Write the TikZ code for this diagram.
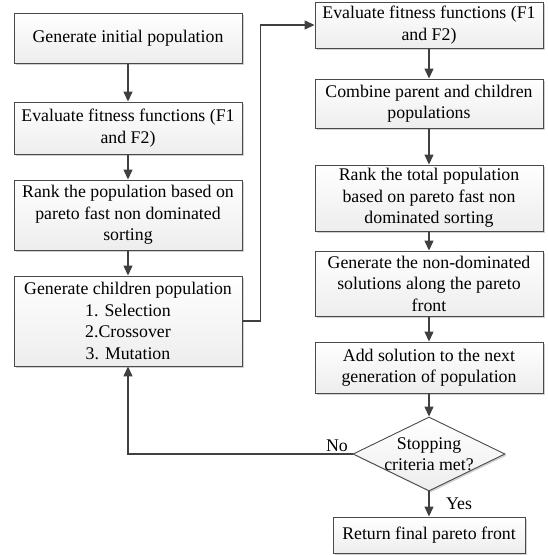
\documentclass[tikz,border=0pt]{standalone}
\usepackage{fontspec}
\setmainfont{Liberation Serif}
\usetikzlibrary{arrows.meta,shapes.geometric,shadows,calc}
\definecolor{edgec}{HTML}{4A4A4A}
\definecolor{linec}{HTML}{404040}
\tikzset{
  box/.style={draw=edgec, line width=0.9pt, top color=white, bottom color=black!7,
    align=center, inner sep=0pt, minimum width=228pt,
    font=\fontsize{17.8}{21.5}\selectfont,
    drop shadow={shadow xshift=1.6pt, shadow yshift=-1.6pt, fill=black!18, opacity=1}},
  decision/.style={draw=edgec, line width=0.9pt, shape=diamond, top color=white, bottom color=black!7,
    inner sep=0pt, minimum width=152pt, minimum height=74pt,
    drop shadow={shadow xshift=1.6pt, shadow yshift=-1.6pt, fill=black!18, opacity=1}},
  txt/.style={align=center, inner sep=0pt, font=\fontsize{17.8}{21.5}\selectfont},
  arr/.style={draw=linec, line width=1.3pt, -{Triangle[length=10pt,width=9pt]}}
}
\begin{document}
\begin{tikzpicture}[x=1pt,y=-1pt]
\useasboundingbox (0,0) rectangle (548,555);
% left column
\node[box, minimum height=50pt] (b1) at (128,38) {Generate initial population};
\node[box, minimum height=52pt] (b2) at (128,128) {Evaluate fitness functions (F1\\and F2)};
\node[box, minimum height=70pt] (b3) at (128,215) {Rank the population based on\\pareto fast non dominated\\sorting};
\node[box, minimum height=90pt] (b4) at (128,321) {Generate children population\\1. Selection\\2.Crossover\\3. Mutation};
% right column
\node[box, minimum height=46pt] (r1) at (429,25) {Evaluate fitness functions (F1\\and F2)};
\node[box, minimum height=49pt] (r2) at (429,103.5) {Combine parent and children\\populations};
\node[box, minimum height=66pt] (r3) at (429,198) {Rank the total population\\based on pareto fast non\\dominated sorting};
\node[box, minimum height=65pt] (r4) at (429,283.5) {Generate the non-dominated\\solutions along the pareto\\front};
\node[box, minimum height=51pt] (r5) at (429,367.5) {Add solution to the next\\generation of population};
\node[decision] (d) at (429,454) {};
\node[txt] (dt) at (d) {Stopping\\criteria met?};
\node[box, minimum width=192pt, minimum height=36pt] (fin) at (429,535) {Return final pareto front};
% connectors
\draw[arr] (b1) -- (b2);
\draw[arr] (b2) -- (b3);
\draw[arr] (b3) -- (b4);
\draw[arr] (b4.east) -- ++(18,0) |- (r1.west);
\draw[arr] (r1) -- (r2);
\draw[arr] (r2) -- (r3);
\draw[arr] (r3) -- (r4);
\draw[arr] (r4) -- (r5);
\draw[arr] (r5) -- (d);
\draw[arr] (d) -- (fin);
\draw[arr] (d.west) -| (b4.south);
\node[txt] (no) at (337,446) {No};
\node[txt] (yes) at (459,504) {Yes};
\end{tikzpicture}
\end{document}
